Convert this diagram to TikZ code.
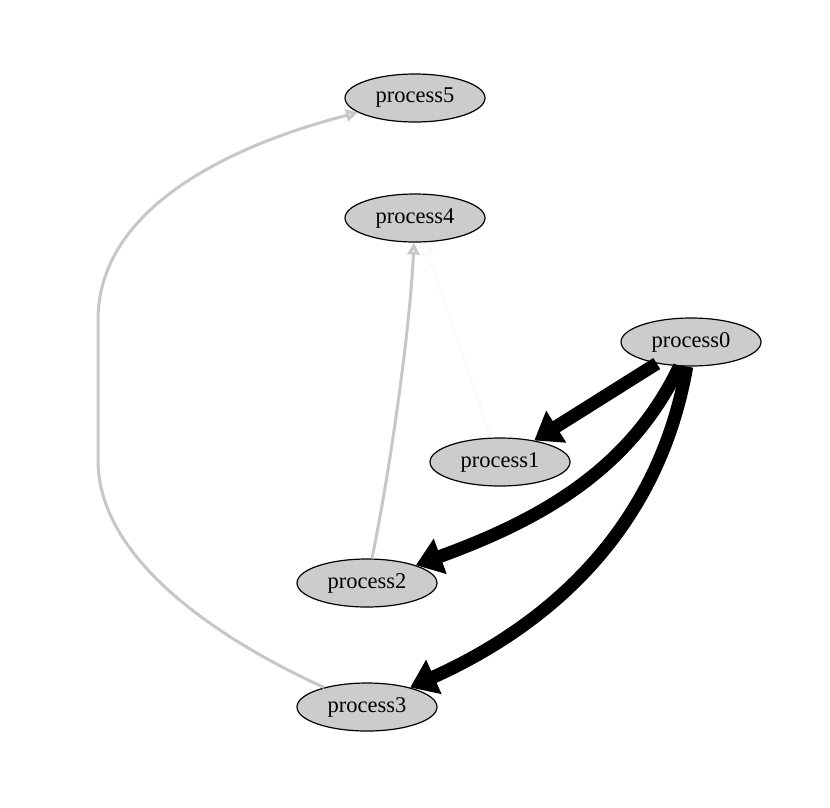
\documentclass[tikz,border=0pt]{standalone}
\usepackage{fontspec}
\setmainfont{Liberation Serif}
\usetikzlibrary{shapes.geometric,arrows.meta}
\begin{document}
\begin{tikzpicture}[x=1pt,y=-1pt,
  proc/.style={ellipse,draw=black,line width=1.2pt,fill=lightgray!80,minimum width=140pt,minimum height=48pt,inner sep=0pt,font=\fontsize{22.5}{24}\selectfont},
  heavy/.style={line width=13pt,-{Triangle[length=26pt,width=36pt]}},
  light/.style={line width=3pt,draw=black!22,-{Triangle[open,length=12pt,width=12pt]}},
  faint/.style={line width=0.6pt,draw=black!6,-{Triangle[open,length=12pt,width=12pt]}}]
\useasboundingbox (0,0) rectangle (830,807);
\node[proc] (p5) at (415,98) {process5};
\node[proc] (p4) at (415,218) {process4};
\node[proc] (p0) at (691,342) {process0};
\node[proc] (p1) at (500,462) {process1};
\node[proc] (p2) at (367,583) {process2};
\node[proc] (p3) at (367,707) {process3};
\draw[heavy] (p0) -- (p1);
\draw[heavy] (p0) .. controls (630,470) and (540,520) .. (p2);
\draw[heavy] (p0) .. controls (660,520) and (560,620) .. (p3);
\draw[faint] (p1) -- (p4);
\draw[light] (p2) .. controls (390,470) and (410,330) .. (p4);
\draw[light] (p3) .. controls (220,640) and (98,560) .. (98,460) -- (98,320) .. controls (98,200) and (250,140) .. (p5);
\end{tikzpicture}
\end{document}
